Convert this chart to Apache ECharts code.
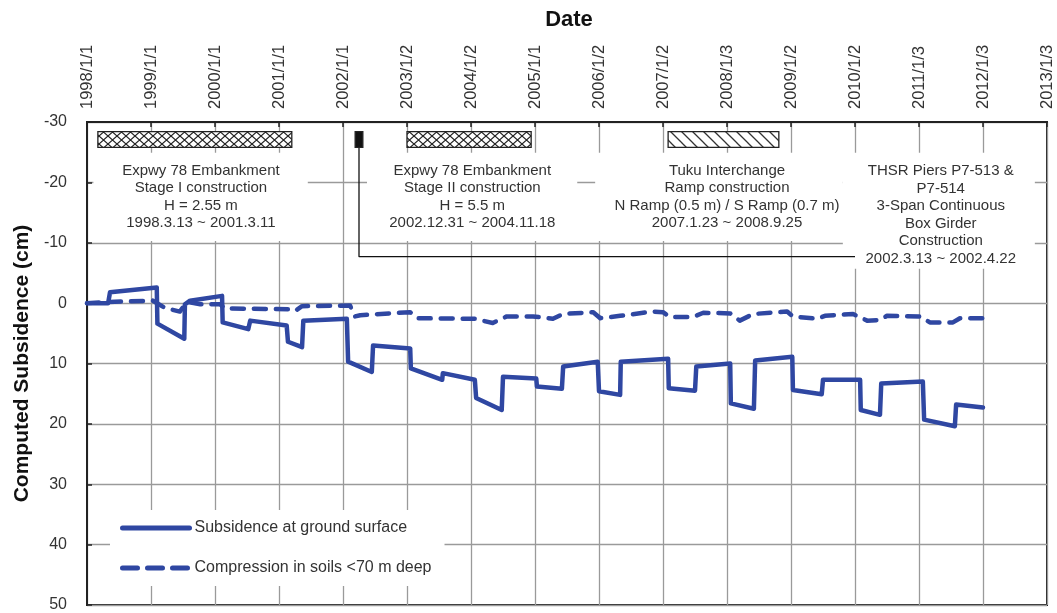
<!DOCTYPE html>
<html>
<head>
<meta charset="utf-8">
<script src="https://cdn.jsdelivr.net/npm/echarts@6/dist/echarts.min.js"></script>
<style>
html,body{margin:0;padding:0;background:#fff;}
#chart{width:1057px;height:613px;}
</style>
</head>
<body>
<div id="chart"></div>
<script>
// ---------- data ----------
const xTickYears = [1998,1999,2000,2001,2002,2003,2004,2005,2006,2007,2008,2009,2010,2011,2012,2013];
const xTickLabels = ['1998/1/1','1999/1/1','2000/1/1','2001/1/1','2002/1/1','2003/1/2','2004/1/2','2005/1/1','2006/1/2','2007/1/2','2008/1/3','2009/1/2','2010/1/2','2011/1/3','2012/1/3','2013/1/3'];

// Subsidence at ground surface (cm, positive = down), x in decimal years
const surfaceYears = [1998.0,1998.33,1998.36,1999.09,1999.10,1999.52,1999.53,1999.61,2000.11,2000.12,2000.52,2000.55,2001.12,2001.14,2001.36,2001.38,2002.06,2002.08,2002.45,2002.47,2003.05,2003.06,2003.55,2003.56,2004.06,2004.08,2004.48,2004.50,2005.02,2005.03,2005.42,2005.44,2005.98,2006.00,2006.33,2006.34,2007.08,2007.09,2007.50,2007.52,2008.05,2008.06,2008.42,2008.44,2009.02,2009.03,2009.48,2009.50,2010.08,2010.09,2010.39,2010.41,2011.06,2011.08,2011.56,2011.58,2012.0];
const surfaceValues = [0,0,-1.8,-2.6,3.4,5.9,0.2,-0.4,-1.2,3.2,4.3,2.9,3.7,6.4,7.3,2.9,2.6,9.7,11.4,7.0,7.5,10.8,12.7,11.6,12.7,15.7,17.7,12.2,12.5,13.8,14.2,10.5,9.7,14.6,15.2,9.7,9.2,14.1,14.5,10.5,10.0,16.6,17.5,9.5,8.9,14.4,15.1,12.7,12.7,17.7,18.5,13.3,13.0,19.3,20.4,16.8,17.3];

// Compression in soils < 70 m deep
const soilYears = [1998.0,1998.33,1999.03,1999.22,1999.45,1999.56,1999.77,2000.08,2000.16,2001.17,2001.25,2001.36,2002.11,2002.19,2002.27,2003.05,2003.16,2004.06,2004.34,2004.56,2004.97,2005.28,2005.44,2005.91,2006.02,2006.33,2006.84,2007.0,2007.11,2007.47,2007.63,2008.05,2008.20,2008.41,2008.94,2009.03,2009.41,2009.53,2009.97,2010.19,2010.39,2010.5,2011.02,2011.17,2011.53,2011.64,2012.0];
const soilValues = [0,-0.2,-0.4,0.8,1.4,-0.2,0.2,0.2,0.9,1.0,1.3,0.5,0.4,2.2,2.0,1.5,2.5,2.6,3.3,2.2,2.2,2.6,1.8,1.5,2.5,2.1,1.4,1.5,2.3,2.3,1.6,1.7,2.9,1.8,1.4,2.2,2.6,2.1,1.8,2.9,2.8,2.1,2.2,3.2,3.2,2.5,2.5];

// construction period bars (decimal years)
const barStart = [1998.17, 2002.19, 2003.0, 2007.08];
const barEnd   = [2001.20, 2002.31, 2004.94, 2008.81];
const barFill  = ['cross', 'solid', 'cross', 'diag'];

// annotation texts
const noteTexts = [
  'Expwy 78 Embankment\nStage I construction\nH = 2.55 m\n1998.3.13 ~ 2001.3.11',
  'Expwy 78 Embankment\nStage II construction\nH = 5.5 m\n2002.12.31 ~ 2004.11.18',
  'Tuku Interchange\nRamp construction\nN Ramp (0.5 m) / S Ramp (0.7 m)\n2007.1.23 ~ 2008.9.25',
  'THSR Piers P7-513 &\nP7-514\n3-Span Continuous\nBox Girder\nConstruction\n2002.3.13 ~ 2002.4.22'
];

// ---------- layout (data coordinates) ----------
const noteAnchorX = [1999.78, 2004.02, 2008.0, 2011.34];
const noteAnchorY = [-17.6, -17.6, -17.6, -14.6];
const noteBoxX0 = [1998.1, 2002.375, 2005.94, 2009.81];
const noteBoxX1 = [2001.45, 2005.66, 2009.81, 2012.81];
const noteBoxY0 = [-24.9, -24.9, -24.9, -24.9];
const noteBoxY1 = [-10.3, -10.3, -10.3, -5.7];
const barTop = -28.4, barBottom = -25.8;
const connectorX = [2002.25, 2002.25, 2010.0];
const connectorY = [-25.8, -7.7, -7.7];

const FONT = '"Liberation Sans", Arial, Helvetica, sans-serif';
const BLUE = '#2f47a2';

function makePattern(kind) {
  const c = document.createElement('canvas');
  const ctx = c.getContext('2d');
  if (kind === 'cross') {
    const w = 9, h = 8;
    c.width = w; c.height = h;
    ctx.fillStyle = '#fff'; ctx.fillRect(0, 0, w, h);
    ctx.strokeStyle = '#222'; ctx.lineWidth = 1.2;
    ctx.beginPath();
    ctx.moveTo(0, 0); ctx.lineTo(w, h);
    ctx.moveTo(0, h); ctx.lineTo(w, 0);
    ctx.stroke();
  } else {
    const s = 11;
    c.width = s; c.height = s;
    ctx.fillStyle = '#fff'; ctx.fillRect(0, 0, s, s);
    ctx.strokeStyle = '#333'; ctx.lineWidth = 1.3;
    ctx.beginPath();
    ctx.moveTo(-1, -1); ctx.lineTo(s + 1, s + 1);
    ctx.moveTo(-2, s - 2); ctx.lineTo(2, s + 2);
    ctx.moveTo(s - 2, -2); ctx.lineTo(s + 2, 2);
    ctx.stroke();
  }
  return { image: c, repeat: 'repeat' };
}
const patterns = { cross: makePattern('cross'), diag: makePattern('diag'), solid: '#111' };

const surfaceData = surfaceYears.map((x, i) => [x, surfaceValues[i]]);
const soilData = soilYears.map((x, i) => [x, soilValues[i]]);

const chart = echarts.init(document.getElementById('chart'), null, { renderer: 'canvas' });

const option = {
  animation: false,
  backgroundColor: '#fff',
  textStyle: { fontFamily: FONT },
  grid: { left: 87, right: 10, top: 122, bottom: 5, show: true, borderColor: '#222', borderWidth: 2, backgroundColor: 'transparent' },
  graphic: [
    { type: 'text', x: 569, y: 9, style: { text: 'Date', align: 'center', verticalAlign: 'top', font: 'bold 22px ' + FONT, fill: '#111' } }
  ],
  xAxis: {
    type: 'value', position: 'top', min: 1998, max: 2013, interval: 1,
    axisLine: { show: true, onZero: false, lineStyle: { color: '#222', width: 2 } },
    axisTick: { show: true, inside: true, length: 5, lineStyle: { color: '#222', width: 1.5 } },
    splitLine: { show: true, lineStyle: { color: '#9a9a9a', width: 1.3 } },
    axisLabel: {
      rotate: -90, margin: 13, fontSize: 16.5, color: '#333', fontFamily: FONT,
      formatter: v => { const i = xTickYears.indexOf(Math.round(v)); return i >= 0 ? xTickLabels[i] : ''; }
    }
  },
  yAxis: {
    type: 'value', inverse: true, min: -30, max: 50, interval: 10,
    name: 'Computed Subsidence (cm)', nameLocation: 'middle', nameGap: 50,
    nameTextStyle: { fontSize: 21, fontWeight: 'bold', color: '#111', fontFamily: FONT },
    axisLine: { show: true, onZero: false, lineStyle: { color: '#222', width: 2 } },
    axisTick: { show: true, inside: true, length: 5, lineStyle: { color: '#222', width: 1.5 } },
    splitLine: { show: true, lineStyle: { color: '#9a9a9a', width: 1.3 } },
    axisLabel: { margin: 20, fontSize: 16, color: '#333', fontFamily: FONT }
  },
  legend: {
    orient: 'vertical', left: 110, top: 510,
    padding: [10, 13, 10, 10], backgroundColor: '#fff',
    itemWidth: 67, itemHeight: 14, itemGap: 24,
    itemStyle: { opacity: 0 },
    textStyle: { fontSize: 16, color: '#333', fontFamily: FONT },
    data: [
      { name: 'Subsidence at ground surface', lineStyle: { width: 5, cap: 'round' } },
      { name: 'Compression in soils <70 m deep', lineStyle: { width: 5, type: [15, 10], cap: 'round' } }
    ]
  },
  series: [
    {
      type: 'custom', name: 'notes', silent: true, z: 1, clip: false,
      data: noteAnchorX.map((x, i) => [x, noteAnchorY[i]]),
      encode: { x: 0, y: 1 },
      renderItem: (params, api) => {
        const i = params.dataIndex;
        const p0 = api.coord([noteBoxX0[i], noteBoxY0[i]]);
        const p1 = api.coord([noteBoxX1[i], noteBoxY1[i]]);
        const c = api.coord([noteAnchorX[i], noteAnchorY[i]]);
        return {
          type: 'group',
          children: [
            { type: 'rect', shape: { x: Math.min(p0[0], p1[0]), y: Math.min(p0[1], p1[1]), width: Math.abs(p1[0] - p0[0]), height: Math.abs(p1[1] - p0[1]) }, style: { fill: '#fff' } },
            { type: 'text', x: c[0], y: c[1], style: { text: noteTexts[i], align: 'center', verticalAlign: 'middle', font: '15px ' + FONT, fill: '#333', lineHeight: 17.5 } }
          ]
        };
      }
    },
    {
      type: 'custom', name: 'bars', silent: true, z: 4, clip: false,
      data: barStart.map((s, i) => [s, barEnd[i]]),
      encode: { x: [0, 1] },
      renderItem: (params, api) => {
        const i = params.dataIndex;
        const p0 = api.coord([barStart[i], barTop]);
        const p1 = api.coord([barEnd[i], barBottom]);
        return {
          type: 'rect',
          shape: { x: p0[0], y: p0[1], width: p1[0] - p0[0], height: p1[1] - p0[1] },
          style: { fill: patterns[barFill[i]], stroke: '#222', lineWidth: 1.3 }
        };
      }
    },
    {
      type: 'line', name: 'connector', silent: true, z: 3,
      data: connectorX.map((x, i) => [x, connectorY[i]]),
      symbol: 'none', lineStyle: { color: '#111', width: 1.3 }
    },
    {
      type: 'line', name: 'Subsidence at ground surface', z: 5,
      data: surfaceData, symbol: 'none', showSymbol: false,
      lineStyle: { color: BLUE, width: 4.5, cap: 'round', join: 'round' },
      itemStyle: { color: BLUE }
    },
    {
      type: 'line', name: 'Compression in soils <70 m deep', z: 5,
      data: soilData, symbol: 'none', showSymbol: false,
      lineStyle: { color: BLUE, width: 4.5, type: [12, 10], cap: 'round', join: 'round' },
      itemStyle: { color: BLUE }
    }
  ]
};
chart.setOption(option);
</script>
</body>
</html>
